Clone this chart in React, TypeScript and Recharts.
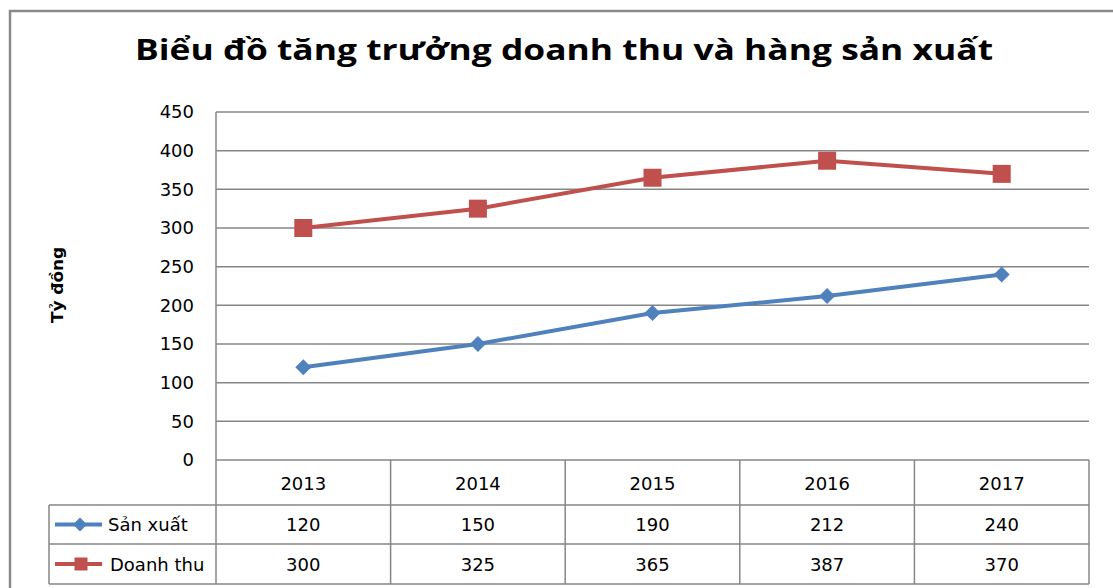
import { ComposedChart, Line, XAxis, YAxis, CartesianGrid } from 'recharts';

const years = ['2013', '2014', '2015', '2016', '2017'];
const sanXuat = [120, 150, 190, 212, 240];
const doanhThu = [300, 325, 365, 387, 370];
const yTicks = [0, 50, 100, 150, 200, 250, 300, 350, 400, 450];

const data = years.map((year, i) => ({ year, sanXuat: sanXuat[i], doanhThu: doanhThu[i] }));

const W = 1113;
const H = 588;
const PLOT_LEFT = 216;
const PLOT_RIGHT = 1089;
const PLOT_TOP = 112;
const PLOT_BOTTOM = 460;
const TABLE_LEFT = 49;
const ROW1 = 505;
const ROW2 = 544;
const TABLE_BOTTOM = 584;

const BLUE = '#4F81BD';
const RED = '#C0504D';
const GRID = '#868686';
const FONT = '"DejaVu Sans", sans-serif';

const Diamond = ({ cx, cy, r = 8 }: any) => (
  <path d={`M${cx},${cy - r} L${cx + r},${cy} L${cx},${cy + r} L${cx - r},${cy} Z`} fill={BLUE} />
);

const Square = ({ cx, cy, s = 18 }: any) => (
  <rect x={cx - s / 2} y={cy - s / 2} width={s} height={s} fill={RED} />
);

const TableTick = (props: any) => {
  const { x, payload } = props;
  const i = payload.index;
  const half = (PLOT_RIGHT - PLOT_LEFT) / years.length / 2;
  const r1y = (ROW1 + ROW2) / 2;
  const r2y = (ROW2 + TABLE_BOTTOM) / 2;
  const txt = { fontFamily: FONT, fontSize: 18, fill: '#000', textAnchor: 'middle' as const, dominantBaseline: 'central' as const };
  return (
    <g>
      {i === 0 && (
        <g>
          <line x1={x - half} y1={PLOT_BOTTOM} x2={x - half} y2={TABLE_BOTTOM} stroke={GRID} strokeWidth={1.5} />
          <line x1={TABLE_LEFT} y1={ROW1} x2={TABLE_LEFT} y2={TABLE_BOTTOM} stroke={GRID} strokeWidth={1.5} />
          <line x1={TABLE_LEFT} y1={ROW1} x2={PLOT_RIGHT} y2={ROW1} stroke={GRID} strokeWidth={1.5} />
          <line x1={TABLE_LEFT} y1={ROW2} x2={PLOT_RIGHT} y2={ROW2} stroke={GRID} strokeWidth={1.5} />
          <line x1={TABLE_LEFT} y1={TABLE_BOTTOM} x2={PLOT_RIGHT} y2={TABLE_BOTTOM} stroke={GRID} strokeWidth={1.5} />
          <line x1={55} y1={r1y} x2={102} y2={r1y} stroke={BLUE} strokeWidth={4} />
          <Diamond cx={80} cy={r1y} r={7} />
          <text x={108} y={r1y} fontFamily={FONT} fontSize={18} dominantBaseline="central">Sản xuất</text>
          <line x1={55} y1={r2y} x2={102} y2={r2y} stroke={RED} strokeWidth={4} />
          <Square cx={81} cy={r2y} s={13} />
          <text x={110} y={r2y} fontFamily={FONT} fontSize={18} dominantBaseline="central">Doanh thu</text>
        </g>
      )}
      <line x1={x + half} y1={PLOT_BOTTOM} x2={x + half} y2={TABLE_BOTTOM} stroke={GRID} strokeWidth={1.5} />
      <text x={x} y={(PLOT_BOTTOM + ROW1) / 2 + 1} {...txt}>{payload.value}</text>
      <text x={x} y={r1y} {...txt}>{sanXuat[i]}</text>
      <text x={x} y={r2y} {...txt}>{doanhThu[i]}</text>
    </g>
  );
};

export default function App() {
  return (
    <div style={{ position: 'absolute', left: 0, top: 0, width: W, height: H, background: '#fff', overflow: 'hidden' }}>
      <svg width={W} height={H} style={{ position: 'absolute', left: 0, top: 0 }}>
        <path d={`M10,${H + 5} L10,11 L${W + 5},11`} fill="none" stroke="#8a8a8a" strokeWidth={2.5} />
        <text x={135} y={60} fontFamily='"Open Sans", sans-serif' fontWeight="bold" fontSize={29}
          textLength={858} lengthAdjust="spacingAndGlyphs">
          Biểu đồ tăng trưởng doanh thu và hàng sản xuất
        </text>
        <text x={57} y={285} transform="rotate(-90 57 285)"
          fontFamily={FONT} fontWeight="bold" fontSize={16} textAnchor="middle" dominantBaseline="central"
          textLength={76} lengthAdjust="spacingAndGlyphs">
          Tỷ đồng
        </text>
      </svg>
      <div style={{ position: 'absolute', left: 0, top: 0 }}>
        <ComposedChart width={W} height={H} data={data}
          margin={{ top: PLOT_TOP, right: W - PLOT_RIGHT, bottom: H - TABLE_BOTTOM, left: 0 }}>
          <CartesianGrid vertical={false} stroke={GRID} strokeWidth={1.5} />
          <XAxis dataKey="year" scale="band" height={TABLE_BOTTOM - PLOT_BOTTOM} axisLine={false} tickLine={false}
            tick={<TableTick />} interval={0} />
          <YAxis width={PLOT_LEFT} domain={[0, 450]} ticks={yTicks} axisLine={{ stroke: GRID, strokeWidth: 1.5 }}
            tickLine={false} tickSize={0} tickMargin={22}
            tick={{ fontFamily: FONT, fontSize: 18, fill: '#000' }} />
          <Line dataKey="sanXuat" stroke={BLUE} strokeWidth={4} isAnimationActive={false}
            dot={(p: any) => <Diamond key={`d${p.index}`} cx={p.cx} cy={p.cy} />} />
          <Line dataKey="doanhThu" stroke={RED} strokeWidth={4} isAnimationActive={false}
            dot={(p: any) => <Square key={`s${p.index}`} cx={p.cx} cy={p.cy} />} />
        </ComposedChart>
      </div>
    </div>
  );
}
